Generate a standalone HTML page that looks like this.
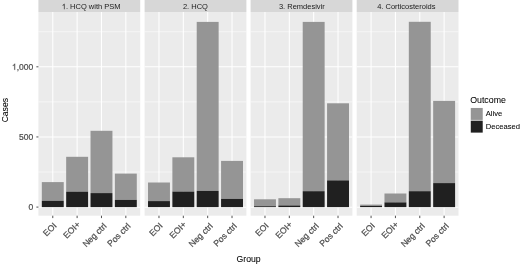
<!DOCTYPE html><html><head><meta charset="utf-8"><style>html,body{margin:0;padding:0;background:#fff;overflow:hidden}svg{display:block;filter:grayscale(1) blur(0.3px)}</style></head><body>
<svg width="520" height="264" viewBox="0 0 520 264" font-family='"Liberation Sans", sans-serif'>
<rect width="520" height="264" fill="#fff"/>
<rect x="38.4" y="0.0" width="101.8" height="12.0" fill="#d7d7d7"/>
<path d="M763 0L583 0L583 1147Q518 1085 412 1023Q307 961 223 930L223 1104Q374 1175 487 1276Q600 1377 647 1472L763 1472Z" transform="translate(61.769,9.200) scale(0.003662,-0.003662)" fill="#1a1a1a"/>
<text x="65.94" y="9.2" font-size="7.5" fill="#1a1a1a">. HCQ with PSM</text>
<rect x="38.4" y="12.0" width="101.8" height="203.7" fill="#ebebeb"/>
<line x1="38.4" x2="140.2" y1="172.02" y2="172.02" stroke="#fff" stroke-width="0.55"/>
<line x1="38.4" x2="140.2" y1="101.87" y2="101.87" stroke="#fff" stroke-width="0.55"/>
<line x1="38.4" x2="140.2" y1="31.72" y2="31.72" stroke="#fff" stroke-width="0.55"/>
<line x1="38.4" x2="140.2" y1="207.30" y2="207.30" stroke="#fff" stroke-width="1.07"/>
<line x1="38.4" x2="140.2" y1="136.95" y2="136.95" stroke="#fff" stroke-width="1.07"/>
<line x1="38.4" x2="140.2" y1="66.80" y2="66.80" stroke="#fff" stroke-width="1.07"/>
<line x1="52.77" x2="52.77" y1="12.0" y2="215.7" stroke="#fff" stroke-width="1.07"/>
<line x1="77.12" x2="77.12" y1="12.0" y2="215.7" stroke="#fff" stroke-width="1.07"/>
<line x1="101.47" x2="101.47" y1="12.0" y2="215.7" stroke="#fff" stroke-width="1.07"/>
<line x1="125.83" x2="125.83" y1="12.0" y2="215.7" stroke="#fff" stroke-width="1.07"/>
<rect x="41.82" y="182.1" width="21.92" height="18.70" fill="#939598"/>
<rect x="41.82" y="200.8" width="21.92" height="6.30" fill="#231f20"/>
<rect x="66.17" y="156.8" width="21.92" height="34.90" fill="#939598"/>
<rect x="66.17" y="191.7" width="21.92" height="15.40" fill="#231f20"/>
<rect x="90.52" y="130.8" width="21.92" height="62.30" fill="#939598"/>
<rect x="90.52" y="193.1" width="21.92" height="14.00" fill="#231f20"/>
<rect x="114.87" y="173.6" width="21.92" height="26.30" fill="#939598"/>
<rect x="114.87" y="199.9" width="21.92" height="7.20" fill="#231f20"/>
<line x1="52.77" x2="52.77" y1="215.7" y2="218.1" stroke="#333" stroke-width="0.85"/>
<text transform="translate(57.07,226.40) rotate(-45)" font-size="8.6" fill="#4d4d4d" stroke="#4d4d4d" stroke-width="0.22" text-anchor="end">EOI</text>
<line x1="77.12" x2="77.12" y1="215.7" y2="218.1" stroke="#333" stroke-width="0.85"/>
<text transform="translate(80.73,225.00) rotate(-45)" font-size="8.6" fill="#4d4d4d" stroke="#4d4d4d" stroke-width="0.22" text-anchor="end">EOI+</text>
<line x1="101.47" x2="101.47" y1="215.7" y2="218.1" stroke="#333" stroke-width="0.85"/>
<text transform="translate(107.08,226.60) rotate(-45)" font-size="8.6" fill="#4d4d4d" stroke="#4d4d4d" stroke-width="0.22" text-anchor="end">Neg ctrl</text>
<line x1="125.83" x2="125.83" y1="215.7" y2="218.1" stroke="#333" stroke-width="0.85"/>
<text transform="translate(131.12,226.70) rotate(-45)" font-size="8.6" fill="#4d4d4d" stroke="#4d4d4d" stroke-width="0.22" text-anchor="end">Pos ctrl</text>
<rect x="144.6" y="0.0" width="101.8" height="12.0" fill="#d7d7d7"/>
<text x="195.40" y="9.2" font-size="7.5" fill="#1a1a1a" text-anchor="middle">2. HCQ</text>
<rect x="144.6" y="12.0" width="101.8" height="203.7" fill="#ebebeb"/>
<line x1="144.6" x2="246.39999999999998" y1="172.02" y2="172.02" stroke="#fff" stroke-width="0.55"/>
<line x1="144.6" x2="246.39999999999998" y1="101.87" y2="101.87" stroke="#fff" stroke-width="0.55"/>
<line x1="144.6" x2="246.39999999999998" y1="31.72" y2="31.72" stroke="#fff" stroke-width="0.55"/>
<line x1="144.6" x2="246.39999999999998" y1="207.30" y2="207.30" stroke="#fff" stroke-width="1.07"/>
<line x1="144.6" x2="246.39999999999998" y1="136.95" y2="136.95" stroke="#fff" stroke-width="1.07"/>
<line x1="144.6" x2="246.39999999999998" y1="66.80" y2="66.80" stroke="#fff" stroke-width="1.07"/>
<line x1="158.97" x2="158.97" y1="12.0" y2="215.7" stroke="#fff" stroke-width="1.07"/>
<line x1="183.32" x2="183.32" y1="12.0" y2="215.7" stroke="#fff" stroke-width="1.07"/>
<line x1="207.68" x2="207.68" y1="12.0" y2="215.7" stroke="#fff" stroke-width="1.07"/>
<line x1="232.03" x2="232.03" y1="12.0" y2="215.7" stroke="#fff" stroke-width="1.07"/>
<rect x="148.02" y="182.5" width="21.92" height="18.60" fill="#939598"/>
<rect x="148.02" y="201.1" width="21.92" height="6.00" fill="#231f20"/>
<rect x="172.37" y="157.3" width="21.92" height="34.30" fill="#939598"/>
<rect x="172.37" y="191.6" width="21.92" height="15.50" fill="#231f20"/>
<rect x="196.72" y="21.9" width="21.92" height="169.00" fill="#939598"/>
<rect x="196.72" y="190.9" width="21.92" height="16.20" fill="#231f20"/>
<rect x="221.07" y="160.9" width="21.92" height="38.00" fill="#939598"/>
<rect x="221.07" y="198.9" width="21.92" height="8.20" fill="#231f20"/>
<line x1="158.97" x2="158.97" y1="215.7" y2="218.1" stroke="#333" stroke-width="0.85"/>
<text transform="translate(163.28,226.40) rotate(-45)" font-size="8.6" fill="#4d4d4d" stroke="#4d4d4d" stroke-width="0.22" text-anchor="end">EOI</text>
<line x1="183.32" x2="183.32" y1="215.7" y2="218.1" stroke="#333" stroke-width="0.85"/>
<text transform="translate(186.92,225.00) rotate(-45)" font-size="8.6" fill="#4d4d4d" stroke="#4d4d4d" stroke-width="0.22" text-anchor="end">EOI+</text>
<line x1="207.68" x2="207.68" y1="215.7" y2="218.1" stroke="#333" stroke-width="0.85"/>
<text transform="translate(213.28,226.60) rotate(-45)" font-size="8.6" fill="#4d4d4d" stroke="#4d4d4d" stroke-width="0.22" text-anchor="end">Neg ctrl</text>
<line x1="232.03" x2="232.03" y1="215.7" y2="218.1" stroke="#333" stroke-width="0.85"/>
<text transform="translate(237.33,226.70) rotate(-45)" font-size="8.6" fill="#4d4d4d" stroke="#4d4d4d" stroke-width="0.22" text-anchor="end">Pos ctrl</text>
<rect x="250.6" y="0.0" width="101.8" height="12.0" fill="#d7d7d7"/>
<text x="301.85" y="9.2" font-size="7.5" fill="#1a1a1a" text-anchor="middle">3. Remdesivir</text>
<rect x="250.6" y="12.0" width="101.8" height="203.7" fill="#ebebeb"/>
<line x1="250.6" x2="352.4" y1="172.02" y2="172.02" stroke="#fff" stroke-width="0.55"/>
<line x1="250.6" x2="352.4" y1="101.87" y2="101.87" stroke="#fff" stroke-width="0.55"/>
<line x1="250.6" x2="352.4" y1="31.72" y2="31.72" stroke="#fff" stroke-width="0.55"/>
<line x1="250.6" x2="352.4" y1="207.30" y2="207.30" stroke="#fff" stroke-width="1.07"/>
<line x1="250.6" x2="352.4" y1="136.95" y2="136.95" stroke="#fff" stroke-width="1.07"/>
<line x1="250.6" x2="352.4" y1="66.80" y2="66.80" stroke="#fff" stroke-width="1.07"/>
<line x1="264.97" x2="264.97" y1="12.0" y2="215.7" stroke="#fff" stroke-width="1.07"/>
<line x1="289.32" x2="289.32" y1="12.0" y2="215.7" stroke="#fff" stroke-width="1.07"/>
<line x1="313.67" x2="313.67" y1="12.0" y2="215.7" stroke="#fff" stroke-width="1.07"/>
<line x1="338.02" x2="338.02" y1="12.0" y2="215.7" stroke="#fff" stroke-width="1.07"/>
<rect x="254.02" y="199.3" width="21.92" height="6.90" fill="#939598"/>
<rect x="254.02" y="206.2" width="21.92" height="0.90" fill="#231f20"/>
<rect x="278.37" y="198.2" width="21.92" height="7.30" fill="#939598"/>
<rect x="278.37" y="205.5" width="21.92" height="1.60" fill="#231f20"/>
<rect x="302.72" y="21.9" width="21.92" height="169.30" fill="#939598"/>
<rect x="302.72" y="191.2" width="21.92" height="15.90" fill="#231f20"/>
<rect x="327.07" y="103.3" width="21.92" height="77.10" fill="#939598"/>
<rect x="327.07" y="180.4" width="21.92" height="26.70" fill="#231f20"/>
<line x1="264.97" x2="264.97" y1="215.7" y2="218.1" stroke="#333" stroke-width="0.85"/>
<text transform="translate(269.27,226.40) rotate(-45)" font-size="8.6" fill="#4d4d4d" stroke="#4d4d4d" stroke-width="0.22" text-anchor="end">EOI</text>
<line x1="289.32" x2="289.32" y1="215.7" y2="218.1" stroke="#333" stroke-width="0.85"/>
<text transform="translate(292.92,225.00) rotate(-45)" font-size="8.6" fill="#4d4d4d" stroke="#4d4d4d" stroke-width="0.22" text-anchor="end">EOI+</text>
<line x1="313.67" x2="313.67" y1="215.7" y2="218.1" stroke="#333" stroke-width="0.85"/>
<text transform="translate(319.27,226.60) rotate(-45)" font-size="8.6" fill="#4d4d4d" stroke="#4d4d4d" stroke-width="0.22" text-anchor="end">Neg ctrl</text>
<line x1="338.02" x2="338.02" y1="215.7" y2="218.1" stroke="#333" stroke-width="0.85"/>
<text transform="translate(343.32,226.70) rotate(-45)" font-size="8.6" fill="#4d4d4d" stroke="#4d4d4d" stroke-width="0.22" text-anchor="end">Pos ctrl</text>
<rect x="356.7" y="0.0" width="101.8" height="12.0" fill="#d7d7d7"/>
<text x="406.35" y="9.2" font-size="7.5" fill="#1a1a1a" text-anchor="middle">4. Corticosteroids</text>
<rect x="356.7" y="12.0" width="101.8" height="203.7" fill="#ebebeb"/>
<line x1="356.7" x2="458.5" y1="172.02" y2="172.02" stroke="#fff" stroke-width="0.55"/>
<line x1="356.7" x2="458.5" y1="101.87" y2="101.87" stroke="#fff" stroke-width="0.55"/>
<line x1="356.7" x2="458.5" y1="31.72" y2="31.72" stroke="#fff" stroke-width="0.55"/>
<line x1="356.7" x2="458.5" y1="207.30" y2="207.30" stroke="#fff" stroke-width="1.07"/>
<line x1="356.7" x2="458.5" y1="136.95" y2="136.95" stroke="#fff" stroke-width="1.07"/>
<line x1="356.7" x2="458.5" y1="66.80" y2="66.80" stroke="#fff" stroke-width="1.07"/>
<line x1="371.07" x2="371.07" y1="12.0" y2="215.7" stroke="#fff" stroke-width="1.07"/>
<line x1="395.43" x2="395.43" y1="12.0" y2="215.7" stroke="#fff" stroke-width="1.07"/>
<line x1="419.77" x2="419.77" y1="12.0" y2="215.7" stroke="#fff" stroke-width="1.07"/>
<line x1="444.12" x2="444.12" y1="12.0" y2="215.7" stroke="#fff" stroke-width="1.07"/>
<rect x="360.12" y="204.6" width="21.92" height="1.30" fill="#939598"/>
<rect x="360.12" y="205.9" width="21.92" height="1.20" fill="#231f20"/>
<rect x="384.47" y="193.5" width="21.92" height="8.90" fill="#939598"/>
<rect x="384.47" y="202.4" width="21.92" height="4.70" fill="#231f20"/>
<rect x="408.82" y="21.8" width="21.92" height="169.40" fill="#939598"/>
<rect x="408.82" y="191.2" width="21.92" height="15.90" fill="#231f20"/>
<rect x="433.17" y="100.9" width="21.92" height="82.20" fill="#939598"/>
<rect x="433.17" y="183.1" width="21.92" height="24.00" fill="#231f20"/>
<line x1="371.07" x2="371.07" y1="215.7" y2="218.1" stroke="#333" stroke-width="0.85"/>
<text transform="translate(375.37,226.40) rotate(-45)" font-size="8.6" fill="#4d4d4d" stroke="#4d4d4d" stroke-width="0.22" text-anchor="end">EOI</text>
<line x1="395.43" x2="395.43" y1="215.7" y2="218.1" stroke="#333" stroke-width="0.85"/>
<text transform="translate(399.02,225.00) rotate(-45)" font-size="8.6" fill="#4d4d4d" stroke="#4d4d4d" stroke-width="0.22" text-anchor="end">EOI+</text>
<line x1="419.77" x2="419.77" y1="215.7" y2="218.1" stroke="#333" stroke-width="0.85"/>
<text transform="translate(425.37,226.60) rotate(-45)" font-size="8.6" fill="#4d4d4d" stroke="#4d4d4d" stroke-width="0.22" text-anchor="end">Neg ctrl</text>
<line x1="444.12" x2="444.12" y1="215.7" y2="218.1" stroke="#333" stroke-width="0.85"/>
<text transform="translate(449.42,226.70) rotate(-45)" font-size="8.6" fill="#4d4d4d" stroke="#4d4d4d" stroke-width="0.22" text-anchor="end">Pos ctrl</text>
<line x1="36.4" x2="38.4" y1="207.10" y2="207.10" stroke="#333" stroke-width="0.85"/>
<text x="33.2" y="210.10" font-size="8.5" fill="#4d4d4d" stroke="#4d4d4d" stroke-width="0.22" text-anchor="end">0</text>
<line x1="36.4" x2="38.4" y1="136.95" y2="136.95" stroke="#333" stroke-width="0.85"/>
<text x="33.2" y="139.95" font-size="8.5" fill="#4d4d4d" stroke="#4d4d4d" stroke-width="0.22" text-anchor="end">500</text>
<line x1="36.4" x2="38.4" y1="66.80" y2="66.80" stroke="#333" stroke-width="0.85"/>
<path d="M763 0L583 0L583 1147Q518 1085 412 1023Q307 961 223 930L223 1104Q374 1175 487 1276Q600 1377 647 1472L763 1472Z" transform="translate(11.929,69.800) scale(0.004150,-0.004150)" fill="#4d4d4d" stroke="#4d4d4d" stroke-width="53.0"/>
<text x="16.66" y="69.80" font-size="8.5" fill="#4d4d4d" stroke="#4d4d4d" stroke-width="0.22">,000</text>
<text transform="translate(7.9,110.2) rotate(-90)" font-size="8.6" fill="#000" stroke="#000" stroke-width="0.05" text-anchor="middle">Cases</text>
<text x="248.6" y="261.9" font-size="8.7" fill="#000" stroke="#000" stroke-width="0.05" text-anchor="middle">Group</text>
<text x="470.2" y="103.3" font-size="8.8" fill="#000" stroke="#000" stroke-width="0.05">Outcome</text>
<rect x="470.6" y="107.7" width="12.2" height="12.2" fill="#f2f2f2"/>
<rect x="470.6" y="120.4" width="12.2" height="12.2" fill="#f2f2f2"/>
<rect x="470.8" y="108.0" width="11.9" height="11.9" fill="#939598"/>
<rect x="470.8" y="120.7" width="11.9" height="11.9" fill="#231f20"/>
<text x="485.8" y="115.5" font-size="7.6" fill="#000" stroke="#000" stroke-width="0.05">Alive</text>
<text x="485.8" y="128.5" font-size="7.6" fill="#000" stroke="#000" stroke-width="0.05">Deceased</text>
</svg></body></html>
